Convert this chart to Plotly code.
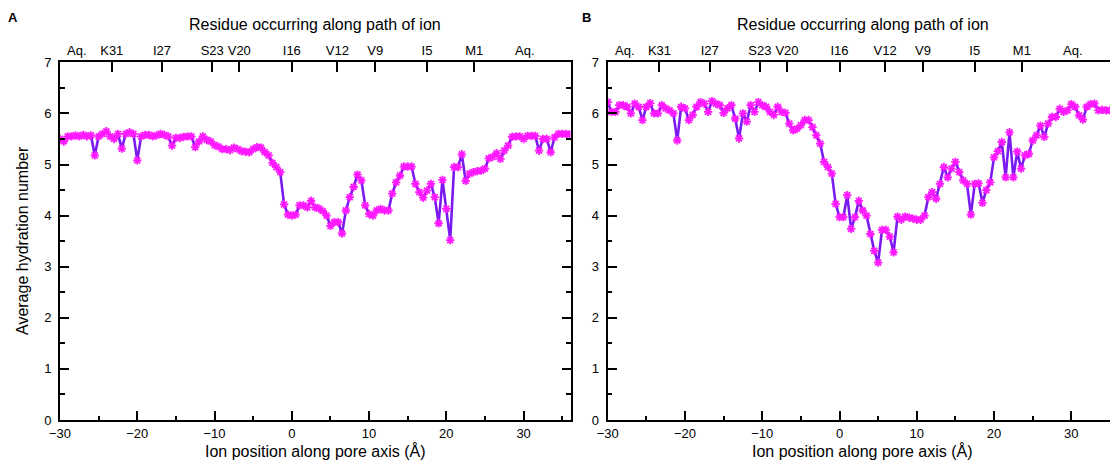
import plotly.graph_objects as go

# ---------------- data ----------------
ion_pos_A = [-30.0, -29.5, -29.0, -28.5, -28.0, -27.5, -27.0, -26.5, -26.0, -25.5,
             -25.0, -24.5, -24.0, -23.5, -23.0, -22.5, -22.0, -21.5, -21.0, -20.5,
             -20.0, -19.5, -19.0, -18.5, -18.0, -17.5, -17.0, -16.5, -16.0, -15.5,
             -15.0, -14.5, -14.0, -13.5, -13.0, -12.5, -12.0, -11.5, -11.0, -10.5,
             -10.0, -9.5, -9.0, -8.5, -8.0, -7.5, -7.0, -6.5, -6.0, -5.5,
             -5.0, -4.5, -4.0, -3.5, -3.0, -2.5, -2.0, -1.5, -1.0, -0.5,
             0.0, 0.5, 1.0, 1.5, 2.0, 2.5, 3.0, 3.5, 4.0, 4.5,
             5.0, 5.5, 6.0, 6.5, 7.0, 7.5, 8.0, 8.5, 9.0, 9.5,
             10.0, 10.5, 11.0, 11.5, 12.0, 12.5, 13.0, 13.5, 14.0, 14.5,
             15.0, 15.5, 16.0, 16.5, 17.0, 17.5, 18.0, 18.5, 19.0, 19.5,
             20.0, 20.5, 21.0, 21.5, 22.0, 22.5, 23.0, 23.5, 24.0, 24.5,
             25.0, 25.5, 26.0, 26.5, 27.0, 27.5, 28.0, 28.5, 29.0, 29.5,
             30.0, 30.5, 31.0, 31.5, 32.0, 32.5, 33.0, 33.5, 34.0, 34.5,
             35.0, 35.5, 36.0]
hydration_A = [5.50, 5.45, 5.55, 5.55, 5.57, 5.55, 5.58, 5.55, 5.57, 5.18,
               5.55, 5.60, 5.65, 5.55, 5.50, 5.60, 5.31, 5.60, 5.63, 5.60,
               5.08, 5.55, 5.58, 5.58, 5.55, 5.57, 5.60, 5.58, 5.55, 5.37,
               5.52, 5.52, 5.54, 5.55, 5.55, 5.34, 5.45, 5.55, 5.48, 5.45,
               5.38, 5.35, 5.30, 5.30, 5.28, 5.33, 5.30, 5.26, 5.25, 5.24,
               5.30, 5.34, 5.33, 5.24, 5.18, 5.03, 4.95, 4.85, 4.22, 4.02,
               4.00, 4.02, 4.20, 4.20, 4.16, 4.29, 4.16, 4.14, 4.09, 4.00,
               3.80, 3.87, 3.87, 3.65, 4.10, 4.36, 4.56, 4.80, 4.69, 4.20,
               4.03, 4.00, 4.10, 4.13, 4.10, 4.10, 4.43, 4.65, 4.78, 4.96,
               4.96, 4.96, 4.62, 4.46, 4.35, 4.49, 4.62, 4.36, 3.85, 4.70,
               4.13, 3.52, 4.95, 4.95, 5.20, 4.68, 4.82, 4.85, 4.87, 4.88,
               4.92, 5.12, 5.15, 5.22, 5.11, 5.27, 5.37, 5.54, 5.55, 5.55,
               5.50, 5.56, 5.56, 5.56, 5.27, 5.50, 5.50, 5.24, 5.53, 5.60,
               5.60, 5.60, 5.59]

ion_pos_B = [-30.0, -29.5, -29.0, -28.5, -28.0, -27.5, -27.0, -26.5, -26.0, -25.5,
             -25.0, -24.5, -24.0, -23.5, -23.0, -22.5, -22.0, -21.5, -21.0, -20.5,
             -20.0, -19.5, -19.0, -18.5, -18.0, -17.5, -17.0, -16.5, -16.0, -15.5,
             -15.0, -14.5, -14.0, -13.5, -13.0, -12.5, -12.0, -11.5, -11.0, -10.5,
             -10.0, -9.5, -9.0, -8.5, -8.0, -7.5, -7.0, -6.5, -6.0, -5.5,
             -5.0, -4.5, -4.0, -3.5, -3.0, -2.5, -2.0, -1.5, -1.0, -0.5,
             0.0, 0.5, 1.0, 1.5, 2.0, 2.5, 3.0, 3.5, 4.0, 4.5,
             5.0, 5.5, 6.0, 6.5, 7.0, 7.5, 8.0, 8.5, 9.0, 9.5,
             10.0, 10.5, 11.0, 11.5, 12.0, 12.5, 13.0, 13.5, 14.0, 14.5,
             15.0, 15.5, 16.0, 16.5, 17.0, 17.5, 18.0, 18.5, 19.0, 19.5,
             20.0, 20.5, 21.0, 21.5, 22.0, 22.5, 23.0, 23.5, 24.0, 24.5,
             25.0, 25.5, 26.0, 26.5, 27.0, 27.5, 28.0, 28.5, 29.0, 29.5,
             30.0, 30.5, 31.0, 31.5, 32.0, 32.5, 33.0, 33.5, 34.0, 34.5,
             35.0]
hydration_B = [6.22, 6.03, 6.03, 6.16, 6.16, 6.13, 6.00, 6.19, 6.13, 5.87,
               6.13, 6.20, 6.00, 6.00, 6.16, 6.10, 6.06, 6.00, 5.47, 6.13,
               6.10, 5.87, 5.97, 6.13, 6.22, 6.19, 6.03, 6.24, 6.19, 6.16,
               6.01, 6.10, 6.16, 5.90, 5.51, 6.00, 5.84, 6.16, 6.03, 6.22,
               6.16, 6.13, 6.03, 5.97, 6.13, 6.03, 6.01, 5.80, 5.67, 5.70,
               5.77, 5.87, 5.87, 5.73, 5.57, 5.41, 5.05, 4.95, 4.82, 4.23,
               3.97, 3.97, 4.40, 3.74, 3.97, 4.29, 4.10, 4.00, 3.64, 3.31,
               3.08, 3.72, 3.72, 3.59, 3.28, 3.98, 3.92, 3.98, 3.96, 3.94,
               3.92, 3.92, 4.00, 4.36, 4.46, 4.33, 4.62, 4.95, 4.75, 4.92,
               5.05, 4.85, 4.69, 4.62, 4.02, 4.62, 4.63, 4.25, 4.50, 4.65,
               5.14, 5.26, 5.44, 4.75, 5.63, 4.75, 5.25, 4.92, 5.18, 5.21,
               5.47, 5.57, 5.76, 5.54, 5.80, 5.93, 5.93, 6.09, 6.03, 6.06,
               6.18, 6.13, 5.96, 5.88, 6.13, 6.18, 6.19, 6.06, 6.07, 6.06,
               6.06]

x_tickvals = [-30, -20, -10, 0, 10, 20, 30]
x_minor_tickvals = [-25, -15, -5, 5, 15, 25, 35]
y_tickvals = [0, 1, 2, 3, 4, 5, 6, 7]
y_minor_tickvals = [0.5, 1.5, 2.5, 3.5, 4.5, 5.5, 6.5]
residue_pos = [-23.3, -16.8, -10.3, -6.8, 0.0, 5.9, 10.8, 17.5, 23.6]
residue_labels = ["K31", "I27", "S23", "V20", "I16", "V12", "V9", "I5", "M1"]
aq_pos = [-27.8, 30.2]
aq_label = "Aq."

# ---------------- figure ----------------
W, H = 1110, 465
FONT = "Arial, Liberation Sans, sans-serif"
LINE_COL = "#7a1af0"
MARK_COL = "#ff19ff"

yb, yt = 420.0, 62.3
A_left, A_right = 60.0, 570.5
B_left, B_right = 607.7, 1110.0
px_per_A = 7.727

ydom = [1 - yb / H, 1 - yt / H]
A_dom = [A_left / W, A_right / W]
B_dom = [B_left / W, 1.0]
A_range = [-30, -30 + (A_right - A_left) / px_per_A]
B_range = [-30, -30 + (B_right - B_left) / px_per_A]

fig = go.Figure()
# empty traces so that every tick-carrying axis gets a subplot
for xa, ya in [("x3", "y"), ("x4", "y2"), ("x5", "y"), ("x", "y5"),
               ("x6", "y2"), ("x2", "y6")]:
    fig.add_trace(go.Scatter(x=[], y=[], xaxis=xa, yaxis=ya,
                             showlegend=False, hoverinfo="skip"))

for xs, ys, xa, ya in [(ion_pos_A, hydration_A, "x", "y"),
                       (ion_pos_B, hydration_B, "x2", "y2")]:
    fig.add_trace(go.Scatter(
        x=xs, y=ys, xaxis=xa, yaxis=ya, mode="lines+markers",
        line=dict(color=LINE_COL, width=2.6),
        marker=dict(symbol="asterisk-open", size=7, color=MARK_COL,
                    line=dict(color=MARK_COL, width=1.8)),
        showlegend=False, hoverinfo="skip"))

tickfont = dict(family=FONT, size=13, color="black")
common = dict(showline=True, linecolor="black", linewidth=2,
              tickcolor="black", tickwidth=1.6, tickfont=tickfont,
              showgrid=False, zeroline=False, automargin=False,
              fixedrange=True, tickmode="array")
minor_ax = dict(showline=False, tickcolor="black", tickwidth=1.6,
                showgrid=False, zeroline=False, automargin=False,
                fixedrange=True, tickmode="array", ticks="inside",
                ticklen=4.5, showticklabels=False)

fig.update_layout(
    template="none",
    width=W, height=H,
    margin=dict(l=0, r=0, t=0, b=0, pad=0, autoexpand=False),
    paper_bgcolor="white", plot_bgcolor="rgba(0,0,0,0)",
    font=dict(family=FONT, color="black"),
    showlegend=False,
    # ---- panel A
    xaxis=dict(common, domain=A_dom, range=A_range, anchor="y",
               ticks="inside", ticklen=9, tickvals=x_tickvals),
    xaxis3=dict(common, overlaying="x", side="top", range=A_range,
                anchor="y", ticks="inside", ticklen=10,
                tickvals=residue_pos, ticktext=residue_labels),
    xaxis5=dict(minor_ax, overlaying="x", side="bottom", range=A_range,
                anchor="y", tickvals=x_minor_tickvals),
    yaxis=dict(common, domain=ydom, range=[0, 7], anchor="x",
               ticks="inside", ticklen=9, tickvals=y_tickvals,
               mirror="ticks", ticklabelstandoff=4),
    yaxis5=dict(minor_ax, overlaying="y", side="left", range=[0, 7],
                anchor="x", tickvals=y_minor_tickvals, mirror="ticks"),
    # ---- panel B
    xaxis2=dict(common, domain=B_dom, range=B_range, anchor="y2",
                ticks="inside", ticklen=9, tickvals=x_tickvals),
    xaxis4=dict(common, overlaying="x2", side="top", range=B_range,
                anchor="y2", ticks="inside", ticklen=10,
                tickvals=residue_pos, ticktext=residue_labels),
    xaxis6=dict(minor_ax, overlaying="x2", side="bottom", range=B_range,
                anchor="y2", tickvals=x_minor_tickvals),
    yaxis2=dict(common, domain=ydom, range=[0, 7], anchor="x2",
                ticks="inside", ticklen=9, tickvals=y_tickvals,
                ticklabelstandoff=4),
    yaxis6=dict(minor_ax, overlaying="y2", side="left", range=[0, 7],
                anchor="x2", tickvals=y_minor_tickvals),
)

ann = []
for (xl, xr, xref, letter, lx) in [(A_left, A_right, "x", "A", 13),
                                   (B_left, B_right + 8, "x2", "B", 586)]:
    cx = (xl + xr) / 2
    ann.append(dict(text="Residue occurring along path of ion", x=cx / W,
                    y=1 - 24 / H, xref="paper", yref="paper", showarrow=False,
                    font=dict(family=FONT, size=16), xanchor="center",
                    yanchor="middle"))
    ann.append(dict(text="Ion position along pore axis (Å)", x=cx / W,
                    y=1 - 451 / H, xref="paper", yref="paper", showarrow=False,
                    font=dict(family=FONT, size=16), xanchor="center",
                    yanchor="middle"))
    ann.append(dict(text="<b>%s</b>" % letter, x=lx / W, y=1 - 17 / H,
                    xref="paper", yref="paper", showarrow=False,
                    font=dict(family=FONT, size=13), xanchor="center",
                    yanchor="middle"))
    for p in aq_pos:
        ann.append(dict(text=aq_label, x=p, xref=xref, y=1 - 50 / H,
                        yref="paper", showarrow=False,
                        font=dict(family=FONT, size=13), xanchor="center",
                        yanchor="middle"))

ann.append(dict(text="Average hydration number", x=22 / W, y=1 - 241 / H,
                xref="paper", yref="paper", showarrow=False, textangle=-90,
                font=dict(family=FONT, size=16), xanchor="center",
                yanchor="middle"))
fig.update_layout(annotations=ann)

fig.write_html("out.html")
